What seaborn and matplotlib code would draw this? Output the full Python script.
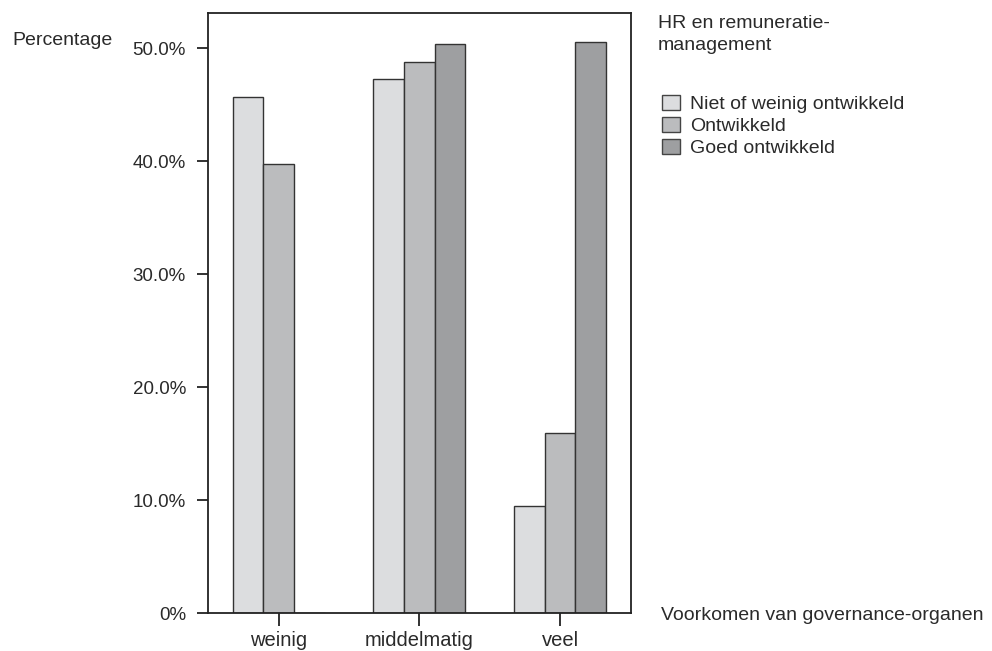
import numpy as np
import pandas as pd
import matplotlib
matplotlib.use("Agg")
import matplotlib.pyplot as plt
import seaborn as sns
from matplotlib.patches import Patch
from matplotlib.ticker import FuncFormatter

categories = ["weinig", "middelmatig", "veel"]
series_names = ["Niet of weinig ontwikkeld", "Ontwikkeld", "Goed ontwikkeld"]
niet_vals = [45.7, 47.3, 9.5]
ontw_vals = [39.8, 48.8, 16.0]
goed_vals = [0.0, 50.4, 50.6]
yticks = [0, 10, 20, 30, 40, 50]
colors = ["#dcdddf", "#bbbcbe", "#9e9fa1"]

rows = []
for name, vals in zip(series_names, [niet_vals, ontw_vals, goed_vals]):
    for c, v in zip(categories, vals):
        rows.append({"cat": c, "serie": name, "val": v})
df = pd.DataFrame(rows)

sns.set_style("white")
plt.rcParams["font.family"] = ["Liberation Sans", "DejaVu Sans"]
text_col = "#2a2a2a"

W, H = 992, 651
fig = plt.figure(figsize=(W / 100, H / 100), dpi=100)
ax = fig.add_axes([208.3 / W, 1 - 613.3 / H, (630.5 - 208.3) / W, (613.3 - 13.3) / H])

sns.barplot(data=df, x="cat", y="val", hue="serie", order=categories,
            hue_order=series_names, palette=colors, width=0.653,
            edgecolor="#333333", linewidth=1.0, ax=ax, legend=False, errorbar=None)

ax.set_xlim(-0.5, 2.5)
ax.set_ylim(0, 53.1)
ax.set_yticks(yticks)
ax.yaxis.set_major_formatter(FuncFormatter(lambda v, p: "0%" if v == 0 else f"{v:.1f}%"))
ax.set_xlabel("")
ax.set_ylabel("")
for s in ax.spines.values():
    s.set_visible(True)
    s.set_color("#222222")
    s.set_linewidth(1.3)
ax.tick_params(axis="y", direction="out", length=8, width=1.3, color="#222222",
               labelsize=13.5, labelcolor=text_col, pad=8, left=True)
ax.tick_params(axis="x", direction="out", length=9, width=1.3, color="#222222",
               labelsize=14.5, labelcolor=text_col, pad=4, bottom=True)

fs = 14
fig.text(12 / W, 1 - 45 / H, "Percentage", fontsize=fs, color=text_col,
         ha="left", va="baseline")
fig.text(658 / W, 1 - 28.3 / H, "HR en remuneratie-", fontsize=fs,
         color=text_col, ha="left", va="baseline")
fig.text(658 / W, 1 - 50 / H, "management", fontsize=fs,
         color=text_col, ha="left", va="baseline")
fig.text(661 / W, 1 - 620 / H, "Voorkomen van governance-organen", fontsize=fs,
         color=text_col, ha="left", va="baseline")

handles = [Patch(facecolor=c, edgecolor="#444444", linewidth=1.0) for c in colors]
leg = fig.legend(handles, series_names, loc="upper left",
                 bbox_to_anchor=(661.7 / W, 1 - 95 / H), frameon=False,
                 fontsize=fs, handlelength=0.95, handleheight=0.8,
                 handletextpad=0.5, labelspacing=0.2, borderaxespad=0,
                 borderpad=0)
for t in leg.get_texts():
    t.set_color(text_col)

fig.savefig("out.png", dpi=100)
